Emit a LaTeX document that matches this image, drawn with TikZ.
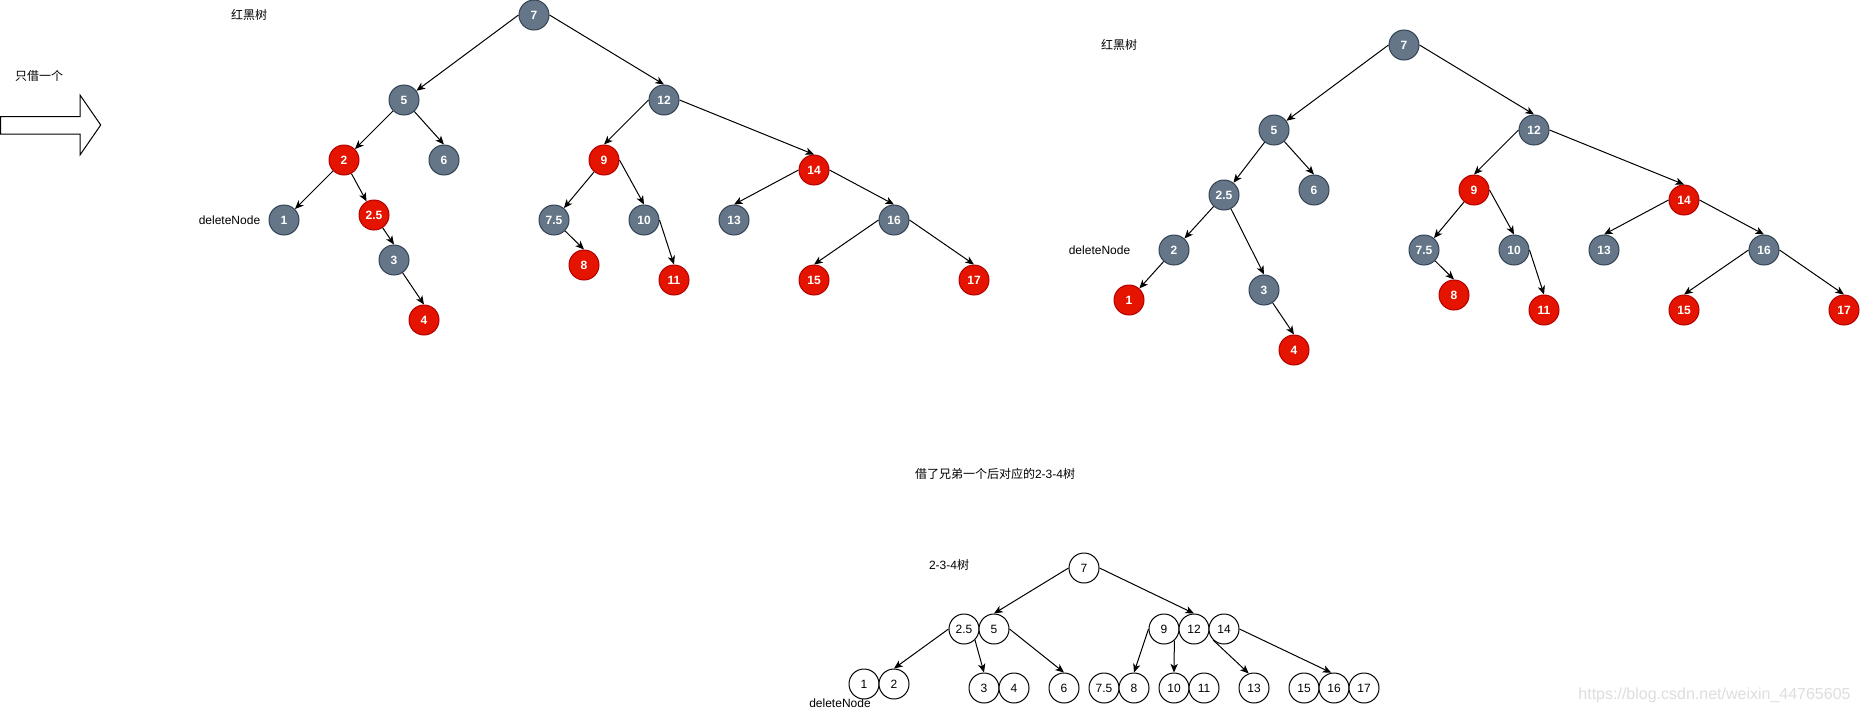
\documentclass[tikz,border=0pt]{standalone}
\usepackage{fontspec}
\setmainfont{Liberation Sans}
\newfontfamily\cjk{Noto Sans CJK SC}
\usetikzlibrary{arrows.meta}
\definecolor{rbgray}{HTML}{647687}
\definecolor{rbgrayline}{HTML}{314354}
\definecolor{rbred}{HTML}{E51400}
\definecolor{rbredline}{HTML}{B20000}
\tikzset{
  txt/.style={inner sep=0pt, font=\fontsize{9}{11}\selectfont},
  rbnode/.style={circle, minimum size=22.5pt, inner sep=0pt, line width=0.75pt,
    text=white, font=\bfseries\fontsize{9}{11}\selectfont},
  gn/.style={rbnode, fill=rbgray, draw=rbgrayline},
  rn/.style={rbnode, fill=rbred, draw=rbredline},
  tn/.style={circle, minimum size=22.5pt, inner sep=0pt, line width=0.75pt, draw=black,
    fill=white, font=\fontsize{9}{11}\selectfont},
  edge/.style={line width=0.75pt, -{Stealth[length=6.5pt, width=5.5pt, inset=1.8pt]}},
}
\begin{document}
\begin{tikzpicture}[x=0.75pt, y=-0.75pt]
\useasboundingbox (0,0) rectangle (1860,714);
\fill[white] (0,0) rectangle (1860,714);

% ---------- left labels and big arrow ----------
\node[txt] (lblBorrow) at (39,76) {\cjk 只借一个};
\draw[line width=0.75pt, fill=white] (0.5,116.7) -- (80,116.7) -- (80,95) -- (100.7,125)
  -- (80,155) -- (80,134) -- (0.5,134) -- cycle;

% ---------- red-black tree 1 ----------
\node[txt] (lblRB1) at (249,15) {\cjk 红黑树};
\node[txt] (lblDel1) at (229.5,220) {deleteNode};
\node[gn] (a7) at (534,15) {7};
\node[gn] (a5) at (404,100) {5};
\node[gn] (a12) at (664,100) {12};
\node[rn] (a2) at (344,160) {2};
\node[gn] (a6) at (444,160) {6};
\node[rn] (a9) at (604,160) {9};
\node[rn] (a14) at (814,170) {14};
\node[gn] (a1) at (284,220) {1};
\node[rn] (a25) at (374,215) {2.5};
\node[gn] (a75) at (554,220) {7.5};
\node[gn] (a10) at (644,220) {10};
\node[gn] (a13) at (734,220) {13};
\node[gn] (a16) at (894,220) {16};
\node[gn] (a3) at (394,260) {3};
\node[rn] (a8) at (584,265) {8};
\node[rn] (a11) at (674,280) {11};
\node[rn] (a15) at (814,280) {15};
\node[rn] (a17) at (974,280) {17};
\node[rn] (a4) at (424,320) {4};

\draw[edge] (a7.west) -- (a5);
\draw[edge] (a7.east) -- (a12.north);
\draw[edge] (a5) -- (a2);
\draw[edge] (a5) -- (a6.north);
\draw[edge] (a2) -- (a1);
\draw[edge] (a2) -- (a25);
\draw[edge] (a25) -- (a3.north);
\draw[edge] (a3) -- (a4.north);
\draw[edge] (a12.west) -- (a9.north);
\draw[edge] (a12.east) -- (a14.north);
\draw[edge] (a9) -- (a75);
\draw[edge] (a9.east) -- (a10.north);
\draw[edge] (a75) -- (a8.north);
\draw[edge] (a10.east) -- (a11.north);
\draw[edge] (a14.west) -- (a13.north);
\draw[edge] (a14.east) -- (a16.north);
\draw[edge] (a16.west) -- (a15.north);
\draw[edge] (a16.east) -- (a17.north);

% ---------- red-black tree 2 ----------
\node[txt] (lblRB2) at (1119,45) {\cjk 红黑树};
\node[txt] (lblDel2) at (1099.5,250) {deleteNode};
\node[gn] (b7) at (1404,45) {7};
\node[gn] (b5) at (1274,130) {5};
\node[gn] (b12) at (1534,130) {12};
\node[gn] (b25) at (1224,195) {2.5};
\node[gn] (b6) at (1314,190) {6};
\node[rn] (b9) at (1474,190) {9};
\node[rn] (b14) at (1684,200) {14};
\node[gn] (b2) at (1174,250) {2};
\node[gn] (b75) at (1424,250) {7.5};
\node[gn] (b10) at (1514,250) {10};
\node[gn] (b13) at (1604,250) {13};
\node[gn] (b16) at (1764,250) {16};
\node[rn] (b1) at (1129,300) {1};
\node[gn] (b3) at (1264,290) {3};
\node[rn] (b8) at (1454,295) {8};
\node[rn] (b11) at (1544,310) {11};
\node[rn] (b15) at (1684,310) {15};
\node[rn] (b17) at (1844,310) {17};
\node[rn] (b4) at (1294,350) {4};

\draw[edge] (b7.west) -- (b5);
\draw[edge] (b7.east) -- (b12.north);
\draw[edge] (b5) -- (b25);
\draw[edge] (b5) -- (b6.north);
\draw[edge] (b25) -- (b2);
\draw[edge] (b25) -- (b3.north);
\draw[edge] (b2) -- (b1);
\draw[edge] (b3) -- (b4.north);
\draw[edge] (b12.west) -- (b9.north);
\draw[edge] (b12.east) -- (b14.north);
\draw[edge] (b9) -- (b75);
\draw[edge] (b9.east) -- (b10.north);
\draw[edge] (b75) -- (b8.north);
\draw[edge] (b10.east) -- (b11.north);
\draw[edge] (b14.west) -- (b13.north);
\draw[edge] (b14.east) -- (b16.north);
\draw[edge] (b16.west) -- (b15.north);
\draw[edge] (b16.east) -- (b17.north);

% ---------- 2-3-4 tree ----------
\node[txt] (lblTitle) at (995,474) {{\cjk 借了兄弟一个后对应的}2-3-4{\cjk 树}};
\node[txt] (lbl234) at (949,565) {2-3-4{\cjk 树}};
\node[txt] (lblDel3) at (840,703) {deleteNode};
\node[tn] (c7) at (1084,568) {7};
\node[tn] (c25) at (964,629) {2.5};
\node[tn] (c5) at (994,629) {5};
\node[tn] (c9) at (1164,629) {9};
\node[tn] (c12) at (1194,629) {12};
\node[tn] (c14) at (1224,629) {14};
\node[tn] (c1) at (864,684) {1};
\node[tn] (c2) at (894,684) {2};
\node[tn] (c3) at (984,688) {3};
\node[tn] (c4) at (1014,688) {4};
\node[tn] (c6) at (1064,688) {6};
\node[tn] (c75) at (1104,688) {7.5};
\node[tn] (c8) at (1134,688) {8};
\node[tn] (c10) at (1174,688) {10};
\node[tn] (c11) at (1204,688) {11};
\node[tn] (c13) at (1254,688) {13};
\node[tn] (c15) at (1304,688) {15};
\node[tn] (c16) at (1334,688) {16};
\node[tn] (c17) at (1364,688) {17};

\draw[edge] (c7.west) -- (c5.north);
\draw[edge] (c7.east) -- (c12.north);
\draw[edge] (c25.west) -- (c2.north);
\draw[edge] (c25.-45) -- (c3.north);
\draw[edge] (c5.east) -- (c6.north);
\draw[edge] (c9.west) -- (c8.north);
\draw[edge] (c9.-48) -- (c10.north);
\draw[edge] (c14.-134) -- (c13.110);
\draw[edge] (c14.east) -- (c16.100);

% ---------- watermark ----------
\node[inner sep=0pt, text=black!13, font=\fontsize{12}{14}\selectfont] (wm) at (1714.5,695)
  {https://blog.csdn.net/weixin\_44765605};
\end{tikzpicture}
\end{document}
